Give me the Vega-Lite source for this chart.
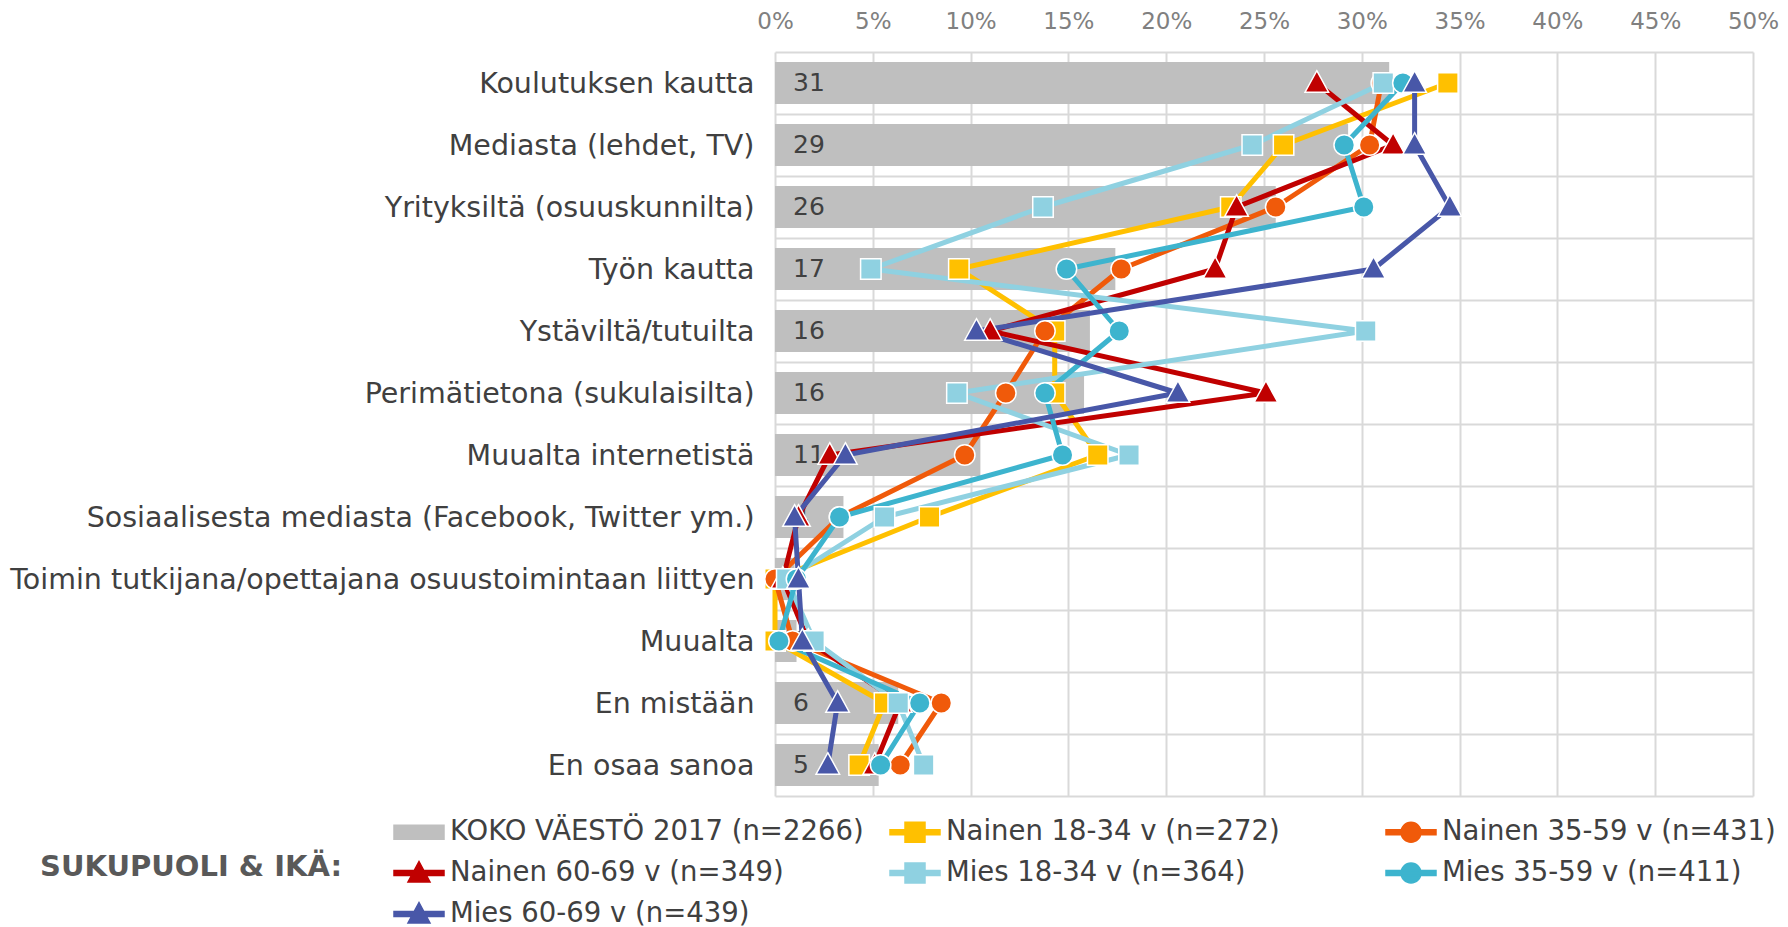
{
  "$schema": "https://vega.github.io/schema/vega-lite/v6.json",
  "width": 978,
  "height": 744,
  "autosize": {"type": "none"},
  "padding": {"left": 775, "top": 52, "right": 35, "bottom": 131},
  "background": "white",
  "config": {"view": {"stroke": null}, "font": "DejaVu Sans"},
  "data": {
    "values": [
      {"cat": "Koulutuksen kautta", "i": 1, "series": "KOKO VÄESTÖ 2017 (n=2266)", "value": 31.4},
      {"cat": "Mediasta (lehdet, TV)", "i": 2, "series": "KOKO VÄESTÖ 2017 (n=2266)", "value": 29.3},
      {"cat": "Yrityksiltä (osuuskunnilta)", "i": 3, "series": "KOKO VÄESTÖ 2017 (n=2266)", "value": 25.6},
      {"cat": "Työn kautta", "i": 4, "series": "KOKO VÄESTÖ 2017 (n=2266)", "value": 17.4},
      {"cat": "Ystäviltä/tutuilta", "i": 5, "series": "KOKO VÄESTÖ 2017 (n=2266)", "value": 16.1},
      {"cat": "Perimätietona (sukulaisilta)", "i": 6, "series": "KOKO VÄESTÖ 2017 (n=2266)", "value": 15.8},
      {"cat": "Muualta internetistä", "i": 7, "series": "KOKO VÄESTÖ 2017 (n=2266)", "value": 10.5},
      {"cat": "Sosiaalisesta mediasta (Facebook, Twitter ym.)", "i": 8, "series": "KOKO VÄESTÖ 2017 (n=2266)", "value": 3.5},
      {"cat": "Toimin tutkijana/opettajana osuustoimintaan liittyen", "i": 9, "series": "KOKO VÄESTÖ 2017 (n=2266)", "value": 1.0},
      {"cat": "Muualta", "i": 10, "series": "KOKO VÄESTÖ 2017 (n=2266)", "value": 1.1},
      {"cat": "En mistään", "i": 11, "series": "KOKO VÄESTÖ 2017 (n=2266)", "value": 6.3},
      {"cat": "En osaa sanoa", "i": 12, "series": "KOKO VÄESTÖ 2017 (n=2266)", "value": 5.3},

      {"cat": "Koulutuksen kautta", "i": 1, "series": "Nainen 18-34 v (n=272)", "value": 34.4},
      {"cat": "Mediasta (lehdet, TV)", "i": 2, "series": "Nainen 18-34 v (n=272)", "value": 26.0},
      {"cat": "Yrityksiltä (osuuskunnilta)", "i": 3, "series": "Nainen 18-34 v (n=272)", "value": 23.3},
      {"cat": "Työn kautta", "i": 4, "series": "Nainen 18-34 v (n=272)", "value": 9.4},
      {"cat": "Ystäviltä/tutuilta", "i": 5, "series": "Nainen 18-34 v (n=272)", "value": 14.3},
      {"cat": "Perimätietona (sukulaisilta)", "i": 6, "series": "Nainen 18-34 v (n=272)", "value": 14.3},
      {"cat": "Muualta internetistä", "i": 7, "series": "Nainen 18-34 v (n=272)", "value": 16.5},
      {"cat": "Sosiaalisesta mediasta (Facebook, Twitter ym.)", "i": 8, "series": "Nainen 18-34 v (n=272)", "value": 7.9},
      {"cat": "Toimin tutkijana/opettajana osuustoimintaan liittyen", "i": 9, "series": "Nainen 18-34 v (n=272)", "value": 0.0},
      {"cat": "Muualta", "i": 10, "series": "Nainen 18-34 v (n=272)", "value": 0.0},
      {"cat": "En mistään", "i": 11, "series": "Nainen 18-34 v (n=272)", "value": 5.6},
      {"cat": "En osaa sanoa", "i": 12, "series": "Nainen 18-34 v (n=272)", "value": 4.3},

      {"cat": "Koulutuksen kautta", "i": 1, "series": "Nainen 35-59 v (n=431)", "value": 31.0},
      {"cat": "Mediasta (lehdet, TV)", "i": 2, "series": "Nainen 35-59 v (n=431)", "value": 30.4},
      {"cat": "Yrityksiltä (osuuskunnilta)", "i": 3, "series": "Nainen 35-59 v (n=431)", "value": 25.6},
      {"cat": "Työn kautta", "i": 4, "series": "Nainen 35-59 v (n=431)", "value": 17.7},
      {"cat": "Ystäviltä/tutuilta", "i": 5, "series": "Nainen 35-59 v (n=431)", "value": 13.8},
      {"cat": "Perimätietona (sukulaisilta)", "i": 6, "series": "Nainen 35-59 v (n=431)", "value": 11.8},
      {"cat": "Muualta internetistä", "i": 7, "series": "Nainen 35-59 v (n=431)", "value": 9.7},
      {"cat": "Sosiaalisesta mediasta (Facebook, Twitter ym.)", "i": 8, "series": "Nainen 35-59 v (n=431)", "value": 3.3},
      {"cat": "Toimin tutkijana/opettajana osuustoimintaan liittyen", "i": 9, "series": "Nainen 35-59 v (n=431)", "value": 0.0},
      {"cat": "Muualta", "i": 10, "series": "Nainen 35-59 v (n=431)", "value": 0.9},
      {"cat": "En mistään", "i": 11, "series": "Nainen 35-59 v (n=431)", "value": 8.5},
      {"cat": "En osaa sanoa", "i": 12, "series": "Nainen 35-59 v (n=431)", "value": 6.4},

      {"cat": "Koulutuksen kautta", "i": 1, "series": "Nainen 60-69 v (n=349)", "value": 27.7},
      {"cat": "Mediasta (lehdet, TV)", "i": 2, "series": "Nainen 60-69 v (n=349)", "value": 31.6},
      {"cat": "Yrityksiltä (osuuskunnilta)", "i": 3, "series": "Nainen 60-69 v (n=349)", "value": 23.6},
      {"cat": "Työn kautta", "i": 4, "series": "Nainen 60-69 v (n=349)", "value": 22.5},
      {"cat": "Ystäviltä/tutuilta", "i": 5, "series": "Nainen 60-69 v (n=349)", "value": 11.0},
      {"cat": "Perimätietona (sukulaisilta)", "i": 6, "series": "Nainen 60-69 v (n=349)", "value": 25.1},
      {"cat": "Muualta internetistä", "i": 7, "series": "Nainen 60-69 v (n=349)", "value": 2.8},
      {"cat": "Sosiaalisesta mediasta (Facebook, Twitter ym.)", "i": 8, "series": "Nainen 60-69 v (n=349)", "value": 1.2},
      {"cat": "Toimin tutkijana/opettajana osuustoimintaan liittyen", "i": 9, "series": "Nainen 60-69 v (n=349)", "value": 0.4},
      {"cat": "Muualta", "i": 10, "series": "Nainen 60-69 v (n=349)", "value": 1.7},
      {"cat": "En mistään", "i": 11, "series": "Nainen 60-69 v (n=349)", "value": 6.4},
      {"cat": "En osaa sanoa", "i": 12, "series": "Nainen 60-69 v (n=349)", "value": 5.1},

      {"cat": "Koulutuksen kautta", "i": 1, "series": "Mies 18-34 v (n=364)", "value": 31.1},
      {"cat": "Mediasta (lehdet, TV)", "i": 2, "series": "Mies 18-34 v (n=364)", "value": 24.4},
      {"cat": "Yrityksiltä (osuuskunnilta)", "i": 3, "series": "Mies 18-34 v (n=364)", "value": 13.7},
      {"cat": "Työn kautta", "i": 4, "series": "Mies 18-34 v (n=364)", "value": 4.9},
      {"cat": "Ystäviltä/tutuilta", "i": 5, "series": "Mies 18-34 v (n=364)", "value": 30.2},
      {"cat": "Perimätietona (sukulaisilta)", "i": 6, "series": "Mies 18-34 v (n=364)", "value": 9.3},
      {"cat": "Muualta internetistä", "i": 7, "series": "Mies 18-34 v (n=364)", "value": 18.1},
      {"cat": "Sosiaalisesta mediasta (Facebook, Twitter ym.)", "i": 8, "series": "Mies 18-34 v (n=364)", "value": 5.6},
      {"cat": "Toimin tutkijana/opettajana osuustoimintaan liittyen", "i": 9, "series": "Mies 18-34 v (n=364)", "value": 0.6},
      {"cat": "Muualta", "i": 10, "series": "Mies 18-34 v (n=364)", "value": 2.0},
      {"cat": "En mistään", "i": 11, "series": "Mies 18-34 v (n=364)", "value": 6.3},
      {"cat": "En osaa sanoa", "i": 12, "series": "Mies 18-34 v (n=364)", "value": 7.6},

      {"cat": "Koulutuksen kautta", "i": 1, "series": "Mies 35-59 v (n=411)", "value": 32.1},
      {"cat": "Mediasta (lehdet, TV)", "i": 2, "series": "Mies 35-59 v (n=411)", "value": 29.1},
      {"cat": "Yrityksiltä (osuuskunnilta)", "i": 3, "series": "Mies 35-59 v (n=411)", "value": 30.1},
      {"cat": "Työn kautta", "i": 4, "series": "Mies 35-59 v (n=411)", "value": 14.9},
      {"cat": "Ystäviltä/tutuilta", "i": 5, "series": "Mies 35-59 v (n=411)", "value": 17.6},
      {"cat": "Perimätietona (sukulaisilta)", "i": 6, "series": "Mies 35-59 v (n=411)", "value": 13.8},
      {"cat": "Muualta internetistä", "i": 7, "series": "Mies 35-59 v (n=411)", "value": 14.7},
      {"cat": "Sosiaalisesta mediasta (Facebook, Twitter ym.)", "i": 8, "series": "Mies 35-59 v (n=411)", "value": 3.3},
      {"cat": "Toimin tutkijana/opettajana osuustoimintaan liittyen", "i": 9, "series": "Mies 35-59 v (n=411)", "value": 1.1},
      {"cat": "Muualta", "i": 10, "series": "Mies 35-59 v (n=411)", "value": 0.2},
      {"cat": "En mistään", "i": 11, "series": "Mies 35-59 v (n=411)", "value": 7.4},
      {"cat": "En osaa sanoa", "i": 12, "series": "Mies 35-59 v (n=411)", "value": 5.4},

      {"cat": "Koulutuksen kautta", "i": 1, "series": "Mies 60-69 v (n=439)", "value": 32.7},
      {"cat": "Mediasta (lehdet, TV)", "i": 2, "series": "Mies 60-69 v (n=439)", "value": 32.7},
      {"cat": "Yrityksiltä (osuuskunnilta)", "i": 3, "series": "Mies 60-69 v (n=439)", "value": 34.5},
      {"cat": "Työn kautta", "i": 4, "series": "Mies 60-69 v (n=439)", "value": 30.6},
      {"cat": "Ystäviltä/tutuilta", "i": 5, "series": "Mies 60-69 v (n=439)", "value": 10.3},
      {"cat": "Perimätietona (sukulaisilta)", "i": 6, "series": "Mies 60-69 v (n=439)", "value": 20.6},
      {"cat": "Muualta internetistä", "i": 7, "series": "Mies 60-69 v (n=439)", "value": 3.6},
      {"cat": "Sosiaalisesta mediasta (Facebook, Twitter ym.)", "i": 8, "series": "Mies 60-69 v (n=439)", "value": 1.0},
      {"cat": "Toimin tutkijana/opettajana osuustoimintaan liittyen", "i": 9, "series": "Mies 60-69 v (n=439)", "value": 1.2},
      {"cat": "Muualta", "i": 10, "series": "Mies 60-69 v (n=439)", "value": 1.4},
      {"cat": "En mistään", "i": 11, "series": "Mies 60-69 v (n=439)", "value": 3.2},
      {"cat": "En osaa sanoa", "i": 12, "series": "Mies 60-69 v (n=439)", "value": 2.7}
    ]
  },
  "encoding": {
    "y": {
      "field": "cat",
      "type": "nominal",
      "title": null,
      "scale": {
        "domain": ["Koulutuksen kautta", "Mediasta (lehdet, TV)", "Yrityksiltä (osuuskunnilta)", "Työn kautta", "Ystäviltä/tutuilta", "Perimätietona (sukulaisilta)", "Muualta internetistä", "Sosiaalisesta mediasta (Facebook, Twitter ym.)", "Toimin tutkijana/opettajana osuustoimintaan liittyen", "Muualta", "En mistään", "En osaa sanoa"],
        "paddingInner": 0,
        "paddingOuter": 0
      },
      "axis": {
        "domain": false,
        "ticks": false,
        "grid": true,
        "tickBand": "extent",
        "gridColor": "#d9d9d9",
        "gridWidth": 2,
        "labelFont": "DejaVu Sans",
        "labelFontSize": 28.5,
        "labelColor": "#404040",
        "labelPadding": 21,
        "labelLimit": 900
      }
    }
  },
  "layer": [
    {
      "transform": [{"filter": "datum.series === 'KOKO VÄESTÖ 2017 (n=2266)'"}],
      "mark": {"type": "bar", "height": {"band": 0.68}},
      "encoding": {
        "x": {
          "field": "value",
          "type": "quantitative",
          "title": null,
          "scale": {"domain": [0, 50], "nice": false, "zero": true},
          "axis": {
            "orient": "top",
            "values": [0, 5, 10, 15, 20, 25, 30, 35, 40, 45, 50],
            "labelExpr": "datum.value + '%'",
            "domain": false,
            "ticks": false,
            "grid": true,
            "gridColor": "#d9d9d9",
            "gridWidth": 2,
            "labelFont": "DejaVu Sans",
            "labelFontSize": 23,
            "labelColor": "#808080",
            "labelPadding": 19,
            "labelFlush": false
          }
        },
        "color": {
          "field": "series",
          "type": "nominal",
          "scale": {
            "domain": ["KOKO VÄESTÖ 2017 (n=2266)", "Nainen 18-34 v (n=272)", "Nainen 35-59 v (n=431)", "Nainen 60-69 v (n=349)", "Mies 18-34 v (n=364)", "Mies 35-59 v (n=411)", "Mies 60-69 v (n=439)"],
            "range": ["#BFBFBF", "#FFC000", "#F05A0A", "#C00000", "#8FD1E1", "#3DB4CE", "#4857A8"]
          },
          "legend": {
            "title": "SUKUPUOLI & IKÄ:",
            "orient": "none",
            "legendX": -735,
            "legendY": 754,
            "columns": 3,
            "direction": "horizontal",
            "titleOrient": "left",
            "titleAnchor": "middle",
            "titleBaseline": "middle",
            "titleFont": "DejaVu Sans",
            "titleFontSize": 29,
            "titleFontWeight": "bold",
            "titleColor": "#595959",
            "titlePadding": 51,
            "titleLimit": 600,
            "labelFont": "DejaVu Sans",
            "labelFontSize": 27.5,
            "labelColor": "#404040",
            "labelLimit": 700,
            "labelOffset": 5,
            "symbolSize": 2500,
            "gridAlign": "all",
            "columnPadding": 23,
            "rowPadding": 1,
            "encode": {
              "symbols": {
                "update": {
                  "shape": {"signal": "datum.value === 'KOKO VÄESTÖ 2017 (n=2266)' ? 'M-1,-0.28H1V0.28H-1Z' : indexof(datum.value, '18-34') >= 0 ? 'M-1,-0.1H1V0.1H-1Z M-0.4,-0.4H0.4V0.4H-0.4Z' : indexof(datum.value, '35-59') >= 0 ? 'M-1,-0.1H1V0.1H-1Z M0.4,0A0.4,0.4 0 1,1 -0.4,0A0.4,0.4 0 1,1 0.4,0Z' : 'M-1,-0.1H1V0.1H-1Z M0,-0.46L0.44,0.36H-0.44Z'"},
                  "fill": {"scale": "color", "field": "value"},
                  "stroke": {"value": "transparent"},
                  "opacity": {"value": 1}
                }
              }
            }
          }
        }
      }
    },
    {
      "transform": [{"filter": "datum.series === 'KOKO VÄESTÖ 2017 (n=2266)'"}],
      "mark": {"type": "text", "align": "left", "baseline": "middle", "dx": 18, "font": "DejaVu Sans", "fontSize": 25, "color": "#404040"},
      "encoding": {
        "x": {"datum": 0},
        "text": {"field": "value", "type": "quantitative", "format": ".0f"}
      }
    },
    {
      "transform": [{"filter": "datum.series !== 'KOKO VÄESTÖ 2017 (n=2266)'"}],
      "mark": {"type": "line", "strokeWidth": 5, "strokeJoin": "round"},
      "encoding": {
        "x": {"field": "value", "type": "quantitative"},
        "color": {"field": "series", "type": "nominal"},
        "order": {"field": "i", "type": "quantitative"}
      }
    },
    {
      "transform": [{"filter": "datum.series !== 'KOKO VÄESTÖ 2017 (n=2266)'"}],
      "mark": {"type": "point", "filled": true, "size": 420, "stroke": "white", "strokeWidth": 1.5, "opacity": 1},
      "encoding": {
        "x": {"field": "value", "type": "quantitative"},
        "color": {"field": "series", "type": "nominal"},
        "shape": {
          "field": "series",
          "type": "nominal",
          "scale": {
            "domain": ["Nainen 18-34 v (n=272)", "Nainen 35-59 v (n=431)", "Nainen 60-69 v (n=349)", "Mies 18-34 v (n=364)", "Mies 35-59 v (n=411)", "Mies 60-69 v (n=439)"],
            "range": ["square", "circle", "M0,-1.2L1.15,0.9H-1.15Z", "square", "circle", "M0,-1.2L1.15,0.9H-1.15Z"]
          },
          "legend": null
        }
      }
    }
  ]
}
